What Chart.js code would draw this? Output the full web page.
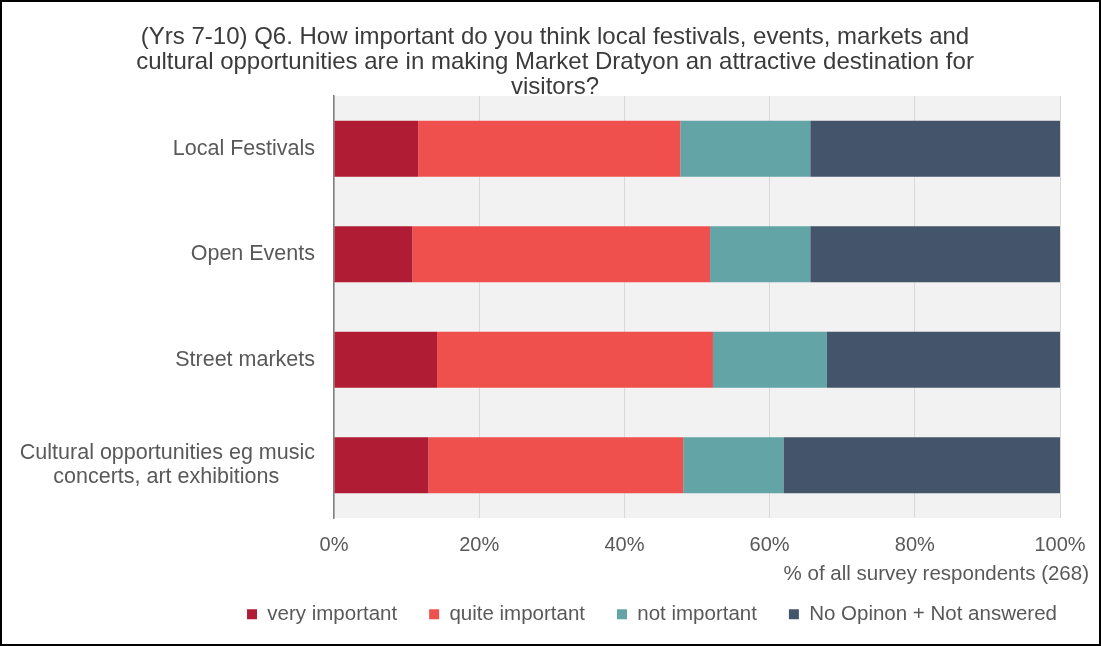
<!DOCTYPE html>
<html>
<head>
<meta charset="utf-8">
<script src="https://cdn.jsdelivr.net/npm/chart.js@4.4.1/dist/chart.umd.min.js"></script>
<style>
  html, body { margin: 0; padding: 0; background: #fff; }
  #wrap { position: relative; width: 1101px; height: 646px; }
  #frame { position: absolute; left: 0; top: 0; width: 1101px; height: 646px; box-sizing: border-box; border: 2px solid #000; pointer-events: none; }
</style>
</head>
<body>
<div id="wrap">
  <canvas id="chart" width="1101" height="646"></canvas>
  <div id="frame"></div>
</div>
<script>
// data (% of respondents)
const categories = [
    'Local Festivals',
    'Open Events',
    'Street markets',
    ['Cultural opportunities eg music', 'concerts, art exhibitions      ']
];
const seriesNames = ['very important', 'quite important', 'not important', 'No Opinon + Not answered'];
const veryImportant  = [11.6, 10.8, 14.2, 13.0];
const quiteImportant = [36.1, 41.0, 38.0, 35.1];
const notImportant   = [17.9, 13.8, 15.7, 13.8];
const noOpinion      = [34.4, 34.4, 32.1, 38.1];
const xTicks = [0, 20, 40, 60, 80, 100];

const titleLines = [
    '(Yrs 7-10) Q6. How important do you think local festivals, events, markets and',
    'cultural opportunities are in making Market Dratyon an attractive destination for',
    'visitors?'
];
const axisTitle = '% of all survey respondents (268)';

const colores = ['#B01C34', '#F0504D', '#63A5A6', '#44546A'];
const FONT = '"Liberation Sans", Arial, sans-serif';

// fondo gris del area de trazado
const plotBg = {
    id: 'plotBg',
    beforeDraw(chart) {
        const { ctx, chartArea: a } = chart;
        ctx.save();
        ctx.fillStyle = '#f2f2f2';
        ctx.fillRect(a.left, a.top, a.right - a.left, a.bottom - a.top);
        ctx.restore();
    }
};

const series = [veryImportant, quiteImportant, notImportant, noOpinion];

new Chart(document.getElementById('chart'), {
    type: 'bar',
    data: {
        labels: categories,
        datasets: series.map((vals, i) => ({
            label: seriesNames[i],
            data: vals,
            backgroundColor: colores[i],
            borderWidth: 0,
            barPercentage: 0.53,
            categoryPercentage: 1.0
        }))
    },
    options: {
        indexAxis: 'y',
        responsive: false,
        animation: false,
        devicePixelRatio: 1,
        layout: { padding: { top: 0, left: 21, right: 12, bottom: 11.5 } },
        scales: {
            x: {
                stacked: true,
                min: 0, max: 100,
                afterBuildTicks: axis => { axis.ticks = xTicks.map(v => ({ value: v })); },
                grid: { color: '#d9d9d9', lineWidth: 1, drawTicks: false },
                border: { display: false },
                ticks: {
                    padding: 15,
                    color: '#595959',
                    font: { family: FONT, size: 20 },
                    callback: v => v + '%'
                }
            },
            y: {
                stacked: true,
                grid: { display: false, drawTicks: false },
                border: { display: true, color: '#7f7f7f', width: 1.5 },
                ticks: {
                    padding: 19,
                    color: '#595959',
                    font: { family: FONT, size: 21.5, lineHeight: 1.12 }
                },
                afterFit: s => { s.width = 313; }
            },
            yRight: {
                type: 'linear',
                position: 'right',
                grid: { display: false },
                border: { display: false },
                ticks: { display: false },
                afterFit: s => { s.width = 29; }
            }
        },
        plugins: {
            title: {
                display: true,
                text: titleLines,
                color: '#3b3b3b',
                font: { family: FONT, size: 24, weight: 'normal', lineHeight: '25px' },
                padding: { top: 24.5, bottom: -3.5 }
            },
            subtitle: {
                display: true,
                text: axisTitle,
                position: 'bottom',
                align: 'end',
                color: '#595959',
                font: { family: FONT, size: 20.5, lineHeight: 1.2 },
                padding: { top: -10.3, bottom: -14.3 }
            },
            legend: {
                position: 'bottom',
                align: 'end',
                weight: 2000,
                labels: {
                    boxWidth: 10,
                    boxHeight: 10,
                    padding: 32,
                    color: '#595959',
                    font: { family: FONT, size: 20.5 }
                }
            },
            tooltip: { enabled: false }
        }
    },
    plugins: [plotBg]
});
</script>
</body>
</html>
